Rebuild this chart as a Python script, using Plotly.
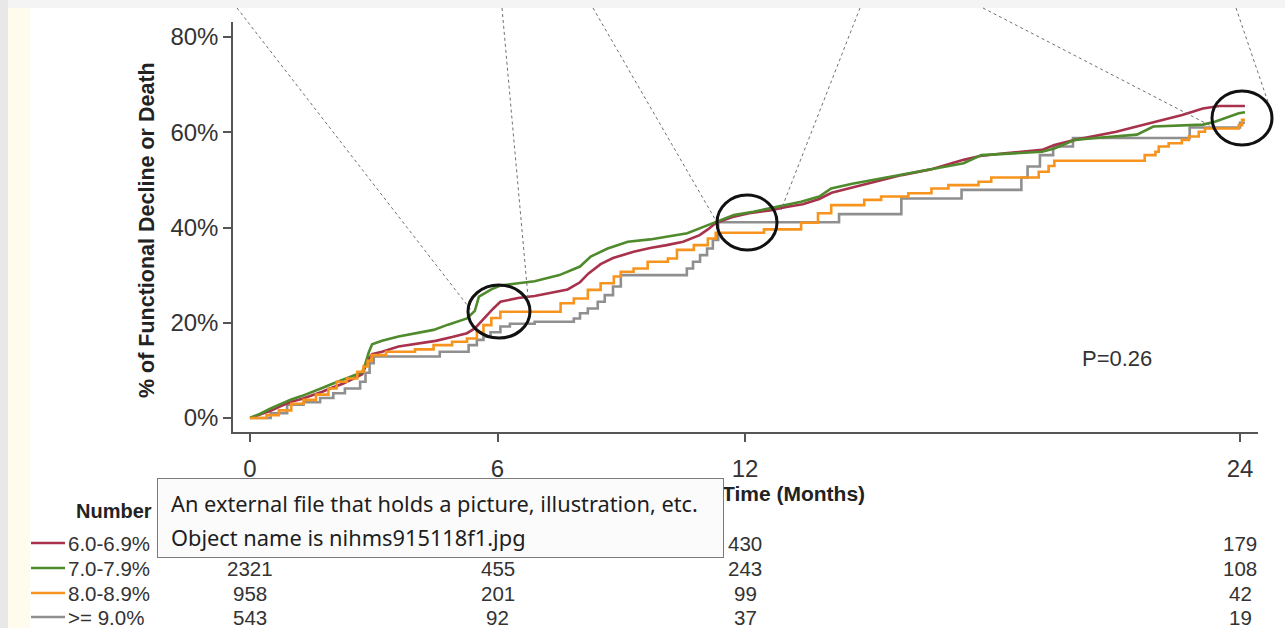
import plotly.graph_objects as go

# ---------------- data (months, % with functional decline or death) ----------------
series_names = ["6.0-6.9%", "7.0-7.9%", "8.0-8.9%", ">= 9.0%"]
series_colors = ["#a8324c", "#4f8a2c", "#f7941d", "#8f8f8f"]

red_t = [0, 0.25, 0.5, 0.75, 1.0, 1.25, 1.5, 1.75, 2.0, 2.25, 2.5, 2.72, 2.8, 2.88, 2.96, 3.2, 3.6,
         4.1, 4.5, 4.9, 5.26, 5.45, 5.6, 5.75, 5.9, 6.07, 6.5, 6.9, 7.3, 7.7, 8.0, 8.2, 8.5, 8.8, 9.3,
         9.7, 10.1, 10.5, 10.9, 11.1, 11.3, 11.7, 12.1, 12.6, 13.0, 13.4, 13.8, 14.1, 14.6, 15.3,
         15.8, 16.5, 17.3, 17.7, 18.3, 19.2, 19.5, 20.0, 20.5, 21.0, 21.4, 21.8, 22.2, 22.6, 23.1,
         23.5, 24.12]
red_y = [0, 0.7, 1.5, 2.5, 3.4, 4.0, 4.7, 5.5, 6.4, 7.2, 8.2, 9.2, 10.8, 12.4, 13.4, 13.9, 15.0,
         15.6, 16.2, 17.0, 17.8, 18.8, 20.2, 21.8, 23.0, 24.4, 25.2, 25.6, 26.3, 27.0, 28.5, 30.3,
         32.3, 33.6, 34.9, 35.7, 36.3, 37.0, 38.4, 39.6, 41.0, 42.2, 43.0, 43.6, 44.3, 44.9, 46.0,
         47.3, 48.4, 50.0, 51.0, 52.2, 54.2, 55.0, 55.6, 56.3, 57.3, 58.4, 59.3, 60.1, 61.0, 61.9,
         62.8, 63.6, 65.0, 65.5, 65.5]

green_t = [0, 0.25, 0.5, 0.75, 1.0, 1.25, 1.5, 1.75, 2.0, 2.25, 2.5, 2.72, 2.8, 2.88, 2.96, 3.2,
           3.6, 4.1, 4.45, 4.8, 5.26, 5.45, 5.55, 5.85, 6.07, 6.5, 6.9, 7.5, 8.0, 8.26, 8.67, 9.16,
           9.7, 10.13, 10.6, 11.1, 11.4, 11.73, 12.2, 12.56, 13.0, 13.36, 13.8, 14.09, 14.6, 15.3,
           15.8, 16.5, 17.3, 17.73, 18.5, 19.2, 19.5, 20.0, 20.5, 21.0, 21.5, 21.9, 22.6, 23.1,
           23.39, 23.73, 23.97, 24.12]
green_y = [0, 0.9, 2.0, 3.0, 3.9, 4.6, 5.4, 6.3, 7.2, 8.0, 8.9, 9.6, 11.5, 13.8, 15.5, 16.2, 17.1,
           17.9, 18.5, 19.6, 20.9, 22.5, 25.5, 27.0, 27.8, 28.3, 28.7, 30.0, 31.8, 33.9, 35.6, 37.0,
           37.5, 38.1, 38.8, 40.5, 41.5, 42.6, 43.3, 44.0, 44.8, 45.4, 46.5, 48.2, 49.2, 50.3, 51.0,
           52.1, 53.5, 55.2, 55.6, 55.9, 56.6, 58.4, 58.8, 59.1, 59.5, 61.2, 61.4, 61.6, 62.2, 63.3,
           64.0, 64.2]

orange_t = [0, 0.4, 0.7, 1.0, 1.3, 1.6, 1.9, 2.1, 2.35, 2.6, 2.75, 2.85, 2.95, 3.3, 4.0, 4.45,
            4.9, 5.26, 5.5, 5.66, 5.85, 6.07, 7.53, 7.85, 8.19, 8.5, 8.82, 8.99, 9.3, 9.64, 10.13,
            10.35, 10.76, 11.1, 11.29, 12.46, 13.36, 13.77, 14.09, 14.89, 15.3, 15.96, 16.52,
            16.93, 17.66, 17.97, 19.12, 19.36, 19.5, 21.69, 21.95, 22.03, 22.27, 22.59, 22.76,
            23.0, 23.15, 23.97, 24.05, 24.12]
orange_y = [0, 0.6, 1.6, 3.0, 3.8, 4.9, 6.2, 7.6, 8.3, 9.7, 10.8, 12.0, 13.2, 13.9, 14.4, 15.3,
            16.0, 16.7, 18.0, 19.5, 21.0, 22.3, 24.1, 25.1, 26.9, 28.3, 29.7, 30.7, 31.4, 32.8,
            33.5, 35.3, 36.3, 37.7, 38.9, 39.6, 41.0, 43.0, 44.7, 45.8, 46.5, 47.2, 48.2, 48.9,
            49.6, 50.5, 51.7, 52.9, 54.0, 55.2, 55.9, 57.0, 57.7, 58.4, 59.1, 60.1, 60.8, 61.5,
            62.6, 62.6]

gray_t = [0, 0.5, 0.9, 1.3, 1.7, 2.02, 2.3, 2.67, 2.8, 2.9, 3.0, 4.6, 5.3, 5.5, 5.66, 5.83, 6.07,
          6.3, 6.9, 7.85, 8.0, 8.19, 8.43, 8.6, 8.8, 8.99, 10.59, 10.74, 10.91, 11.08, 11.22, 11.35,
          14.28, 15.79, 17.25, 18.70, 18.85, 19.15, 19.47, 19.95, 22.78, 24.0, 24.12]
gray_y = [0, 1.0, 2.8, 3.3, 4.2, 5.2, 6.2, 7.6, 9.5, 11.5, 12.9, 13.9, 15.3, 16.4, 17.1, 18.0,
          19.2, 19.8, 20.2, 20.9, 22.0, 23.0, 24.4, 25.8, 27.6, 30.0, 31.4, 32.8, 34.2, 35.6, 37.4,
          41.1, 42.8, 46.1, 47.9, 50.5, 52.8, 55.2, 57.0, 58.8, 61.0, 62.0, 62.0]

x_ticks = [0, 6, 12, 24]
y_ticks = [0, 20, 40, 60, 80]
y_ticktext = ["0%", "20%", "40%", "60%", "80%"]

risk_times = [0, 6, 12, 24]
risk_6 = [None, None, 430, 179]   # first two hidden behind the tooltip
risk_7 = [2321, 455, 243, 108]
risk_8 = [958, 201, 99, 42]
risk_9 = [543, 92, 37, 19]
risk_rows = [risk_6, risk_7, risk_8, risk_9]

p_text = "P=0.26"

# ---------------- layout helpers (pixel -> paper) ----------------
W, H = 1285, 628
def px(x):
    return x / W
def py(y):
    return 1 - y / H

FONT = "Liberation Sans, Arial, sans-serif"
TXT = "#333333"
AX = "#555555"

fig = go.Figure()

curves = [(gray_t, gray_y, 3, "hv"), (red_t, red_y, 0, "linear"),
          (green_t, green_y, 1, "linear"), (orange_t, orange_y, 2, "hv")]
for t, y, idx, shape in curves:
    fig.add_trace(go.Scatter(x=t, y=y, mode="lines", name=series_names[idx],
                             line=dict(color=series_colors[idx], width=2.6, shape=shape),
                             hoverinfo="skip"))

shapes = []
# page strips
shapes.append(dict(type="rect", xref="paper", yref="paper", x0=0, x1=1, y0=py(8), y1=1,
                   fillcolor="#f4f4f4", line=dict(width=0), layer="below"))
shapes.append(dict(type="rect", xref="paper", yref="paper", x0=0, x1=px(8), y0=0, y1=1,
                   fillcolor="#e8e8e8", line=dict(width=0), layer="below"))
shapes.append(dict(type="rect", xref="paper", yref="paper", x0=px(8), x1=px(30), y0=0, y1=py(8),
                   fillcolor="#fffcee", line=dict(width=0), layer="below"))

# callout dotted lines
callouts = [((237, 8), (471, 310)), ((502, 8), (528, 297)), ((593, 8), (715, 219)),
            ((860, 8), (781, 210)), ((983, 8), (1213, 127)), ((1236, 8), (1268, 102))]
for (xa, ya), (xb, yb) in callouts:
    shapes.append(dict(type="line", xref="paper", yref="paper", x0=px(xa), y0=py(ya),
                       x1=px(xb), y1=py(yb), line=dict(color="#707070", width=1, dash="dot"),
                       layer="above"))

# circles
circles = [(468, 285, 530, 338), (717, 195, 777, 250), (1212, 91, 1272, 145)]
for (xa, ya, xb, yb) in circles:
    shapes.append(dict(type="circle", xref="paper", yref="paper", x0=px(xa), y0=py(yb),
                       x1=px(xb), y1=py(ya), line=dict(color="#111111", width=3),
                       layer="above"))

# risk table legend keys
row_y = [543, 568, 593, 617]
for i, ry in enumerate(row_y):
    shapes.append(dict(type="line", xref="paper", yref="paper", x0=px(31), x1=px(65),
                       y0=py(ry), y1=py(ry), line=dict(color=series_colors[i], width=2.5)))

ann = []
ann.append(dict(text="<b>% of Functional Decline or Death</b>", xref="paper", yref="paper",
                x=px(133), y=py(230), textangle=-90, showarrow=False,
                font=dict(family=FONT, size=21.5, color="#222222")))
ann.append(dict(text="<b>Time (Months)</b>", xref="paper", yref="paper", x=px(867), y=py(493),
                xanchor="right", yanchor="middle", showarrow=False,
                font=dict(family=FONT, size=21, color="#222222")))
ann.append(dict(text="<b>Number</b>", xref="paper", yref="paper", x=px(74), y=py(511),
                xanchor="left", yanchor="middle", showarrow=False,
                font=dict(family=FONT, size=20, color="#222222")))
ann.append(dict(text=p_text, xref="paper", yref="paper", x=px(1154), y=py(358),
                showarrow=False, font=dict(family=FONT, size=22, color=TXT)))
for i, ry in enumerate(row_y):
    ann.append(dict(text=series_names[i], xref="paper", yref="paper", x=px(66), y=py(ry),
                    xanchor="left", yanchor="middle", showarrow=False,
                    font=dict(family=FONT, size=20.5, color=TXT)))
    for t, v in zip(risk_times, risk_rows[i]):
        if v is None:
            continue
        ann.append(dict(text=str(v), xref="x", yref="paper", x=t, y=py(ry), xanchor="center",
                        yanchor="middle", showarrow=False,
                        font=dict(family=FONT, size=20.5, color=TXT)))

# tooltip overlay
ann.append(dict(text=" ", xref="paper", yref="paper", x=px(157), y=py(478), xanchor="left",
                yanchor="top", width=565, height=78, showarrow=False, bgcolor="#fbfbfb",
                bordercolor="#7a7a7a", borderwidth=1, borderpad=0))
TIPFONT = dict(family="Noto Sans, Open Sans, sans-serif", size=21.8, color="#1e1e1e")
ann.append(dict(text="An external file that holds a picture, illustration, etc.", xref="paper",
                yref="paper", x=px(169), y=py(503), xanchor="left", yanchor="middle",
                showarrow=False, font=TIPFONT))
ann.append(dict(text="Object name is nihms915118f1.jpg", xref="paper", yref="paper", x=px(169),
                y=py(537), xanchor="left", yanchor="middle", showarrow=False, font=TIPFONT))

x_left, x_right = 233, 1258
y_top, y_bot = 22, 432
sx = 41.25
sy = 4.7625
fig.update_layout(
    width=W, height=H, margin=dict(l=0, r=0, t=0, b=0),
    paper_bgcolor="white", plot_bgcolor="white", showlegend=False,
    shapes=shapes, annotations=ann,
    xaxis=dict(domain=[px(x_left), px(x_right)], range=[(x_left - 250) / sx, (x_right - 250) / sx],
               tickvals=x_ticks, ticks="outside", ticklen=8, tickwidth=1.5, tickcolor=AX,
               showline=True, linecolor=AX, linewidth=1.5, showgrid=False, zeroline=False,
               ticklabelstandoff=6, tickfont=dict(family=FONT, size=24, color=TXT)),
    yaxis=dict(domain=[py(y_bot), py(y_top)], range=[(418 - y_bot) / sy, (418 - y_top) / sy],
               tickvals=y_ticks, ticktext=y_ticktext, ticks="outside", ticklen=8, tickwidth=1.5,
               tickcolor=AX, showline=True, linecolor=AX, linewidth=1.5, showgrid=False,
               zeroline=False, tickfont=dict(family=FONT, size=24, color=TXT)),
)

fig.write_html("out.html", config={"displayModeBar": False},
               post_script="document.body.style.margin='0';")
